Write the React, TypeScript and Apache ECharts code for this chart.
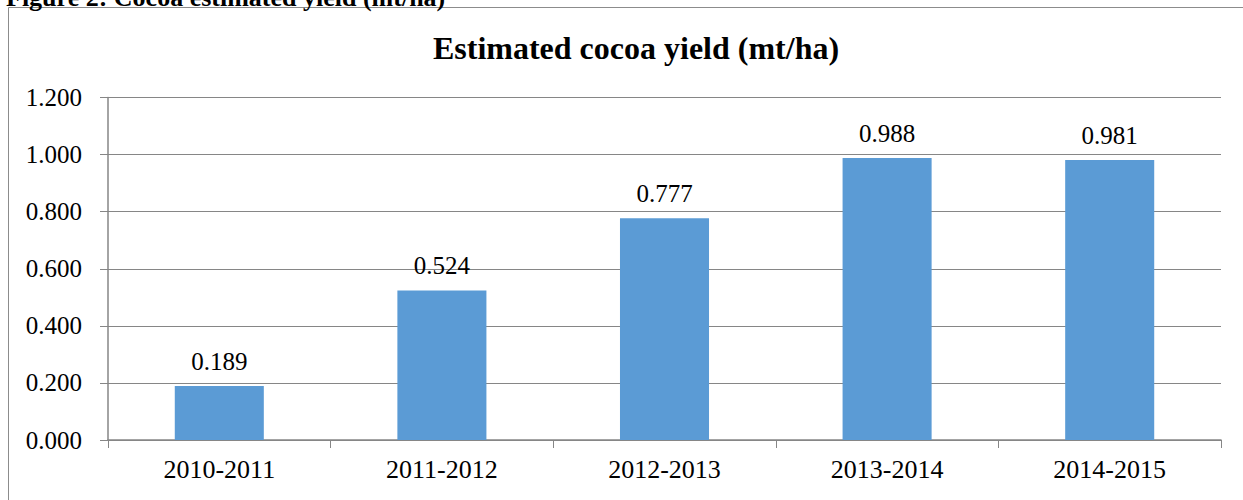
import React, { useEffect, useRef } from "react";
import * as echarts from "echarts";

const categories = ["2010-2011", "2011-2012", "2012-2013", "2013-2014", "2014-2015"];
const yieldValues = [0.189, 0.524, 0.777, 0.988, 0.981];
const chartTitle = "Estimated cocoa yield (mt/ha)";
const figureCaption = "Figure 2: Cocoa estimated yield (mt/ha)";

const FONT = "Liberation Serif";
const GRAY = "#868686";

export default function App() {
  const ref = useRef<HTMLDivElement>(null);
  useEffect(() => {
    if (!ref.current) return;
    const chart = echarts.init(ref.current, null, { renderer: "svg" });
    chart.setOption({
      animation: false,
      backgroundColor: "#ffffff",
      textStyle: { fontFamily: FONT },
      graphic: [
        {
          type: "rect",
          shape: { x: 8.5, y: 7.5, width: 1400, height: 700 },
          style: { fill: "none", stroke: "#8c8c8c", lineWidth: 1 },
          silent: true,
        },
        {
          type: "text",
          x: 6,
          y: 10,
          style: {
            text: figureCaption,
            fontFamily: FONT,
            fontWeight: "bold",
            fontSize: 26,
            fill: "#000",
            verticalAlign: "bottom",
          },
        },
        {
          type: "text",
          x: 636,
          y: 48,
          style: {
            text: chartTitle,
            fontFamily: FONT,
            fontWeight: "bold",
            fontSize: 32,
            fill: "#000",
            align: "center",
            verticalAlign: "middle",
          },
        },
      ],
      grid: { left: 108, right: 22, top: 97.5, bottom: 60, containLabel: false },
      xAxis: {
        type: "category",
        data: categories,
        axisLine: { lineStyle: { color: GRAY, width: 1.5 } },
        axisTick: { show: true, length: 8, lineStyle: { color: GRAY } },
        axisLabel: { color: "#000", fontFamily: FONT, fontSize: 26, margin: 16 },
      },
      yAxis: {
        type: "value",
        min: 0,
        max: 1.2,
        interval: 0.2,
        axisLine: { show: true, lineStyle: { color: GRAY, width: 1.5 } },
        axisTick: { show: true, length: 8, lineStyle: { color: GRAY } },
        axisLabel: {
          color: "#000",
          fontFamily: FONT,
          fontSize: 25,
          margin: 26,
          formatter: (v: number) => v.toFixed(3),
        },
        splitLine: { lineStyle: { color: GRAY, width: 1 } },
      },
      series: [
        {
          type: "bar",
          data: yieldValues,
          barWidth: "40%",
          itemStyle: { color: "#5B9BD5" },
          label: {
            show: true,
            position: "top",
            distance: 12,
            color: "#000",
            fontFamily: FONT,
            fontSize: 25,
            formatter: (p: any) => p.value.toFixed(3),
          },
        },
      ],
    });
    return () => chart.dispose();
  }, []);
  return (
    <div
      ref={ref}
      style={{ position: "fixed", left: 0, top: 0, width: 1243, height: 500 }}
    />
  );
}
